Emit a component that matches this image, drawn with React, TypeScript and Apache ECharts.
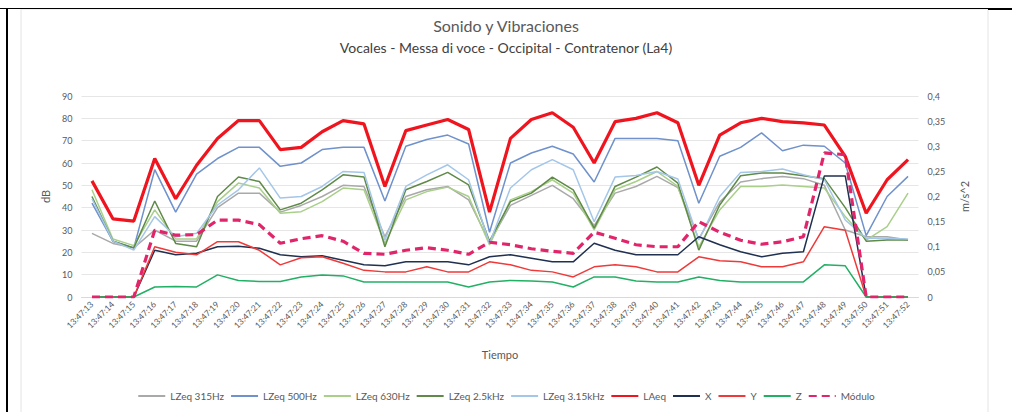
import React, { useEffect, useRef } from "react";
import * as echarts from "echarts";

const categories = [
  "13:47:13","13:47:14","13:47:15","13:47:16","13:47:17","13:47:18","13:47:19","13:47:20",
  "13:47:21","13:47:22","13:47:23","13:47:24","13:47:25","13:47:26","13:47:27","13:47:28",
  "13:47:29","13:47:30","13:47:31","13:47:32","13:47:33","13:47:34","13:47:35","13:47:36",
  "13:47:37","13:47:38","13:47:39","13:47:40","13:47:41","13:47:42","13:47:43","13:47:44",
  "13:47:45","13:47:46","13:47:47","13:47:48","13:47:49","13:47:50","13:47:51","13:47:52",
];

const lzeq315 = [28.5,24,22,30,25,25,40,46.5,46.5,38,41,45,50,49.5,27,45,48,49.5,43.5,24.5,41,45.5,50,44,32,46.5,49.5,54,49,26,42.5,51.5,53,54,53,50,30,27,27,25.5];
const lzeq500 = [42,25,22,57,38,55,62,67,67,58.5,60,66,67,67,43,67.5,70.5,72.5,68.5,29,60,64.5,67.5,64,51.5,71,71,71,70,42,63,67,73.5,65.5,68,67.5,60,27.5,45,54];
const lzeq630 = [48,26,23,39,26,26,42.7,51,48.8,37.5,38.2,42.7,48.8,48,24,43.5,47.2,49.2,45,23.3,43.5,47.2,52.5,46.5,30,48,51.7,56.2,49.5,22.5,39,49.5,49.5,50.2,49.5,48.8,36,25.5,31.5,46.5];
const lzeq2k5 = [45,25,22,43,24,22.5,45,53.7,51.7,39,42,48,54.7,53.7,22.5,48,51.7,55.8,50.2,25,42.7,46.5,53.7,48,30.8,49.5,53.7,58.2,51,21,41.2,54.3,55.5,55.5,54.3,53,40,25,25.5,25.5];
const lzeq3k15 = [44,25,21,36,27,28.5,41.2,48,57.8,44.3,45,49.5,56.2,55.8,25.5,49.5,54.7,59.2,52.5,24,48.8,57,61.5,57,33.7,53.7,54.4,56.2,52.8,25.5,45,55.8,56.2,57.3,54.7,52.5,34.5,26.3,26.3,26];
const laeq = [52,35,34,62,44,59,71,79,79,66,67,74,79,77.5,49.5,74.5,77,79.5,75,38,71,79.5,82.5,76,60,78.5,80,82.5,78,50,72.5,78,80,78.5,78,77,63,37.5,52.5,61.5];

const vibX = [0,0,0,0.093,0.084,0.087,0.1,0.101,0.097,0.084,0.08,0.082,0.073,0.064,0.062,0.07,0.07,0.07,0.064,0.08,0.084,0.077,0.07,0.07,0.107,0.093,0.084,0.084,0.084,0.12,0.104,0.09,0.08,0.087,0.09,0.241,0.241,0,0,0];
const vibY = [0,0,0,0.1,0.089,0.084,0.11,0.11,0.093,0.064,0.078,0.08,0.067,0.053,0.05,0.05,0.06,0.05,0.05,0.07,0.064,0.053,0.05,0.04,0.06,0.064,0.06,0.05,0.05,0.08,0.072,0.07,0.06,0.06,0.07,0.14,0.133,0,0,0];
const vibZ = [0,0,0,0.02,0.021,0.02,0.044,0.033,0.031,0.031,0.04,0.044,0.042,0.03,0.03,0.03,0.03,0.03,0.02,0.03,0.033,0.032,0.03,0.02,0.04,0.04,0.032,0.03,0.03,0.04,0.033,0.03,0.03,0.03,0.03,0.064,0.062,0,0,0];
const modulo = [0,0,0,0.133,0.123,0.124,0.153,0.153,0.144,0.107,0.116,0.122,0.111,0.087,0.085,0.093,0.098,0.093,0.085,0.109,0.104,0.096,0.091,0.087,0.129,0.117,0.104,0.1,0.1,0.15,0.129,0.113,0.105,0.11,0.12,0.287,0.283,0,0,0];

const legendNames = ["LZeq 315Hz","LZeq 500Hz","LZeq 630Hz","LZeq 2.5kHz","LZeq 3.15kHz","LAeq","X","Y","Z","Módulo"];

const FONT = "Lato, 'Open Sans', sans-serif";
const TXT = "#595959";

function line(name: string, data: number[], color: string, width: number, yAxisIndex = 0, type: any = "solid") {
  return {
    name,
    type: "line",
    data,
    yAxisIndex,
    symbol: "none",
    showSymbol: false,
    lineStyle: { color, width, type },
    itemStyle: { color },
  };
}

export default function App() {
  const ref = useRef<HTMLDivElement>(null);
  useEffect(() => {
    if (!ref.current) return;
    const chart = echarts.init(ref.current, undefined, { renderer: "svg" });
    chart.setOption({
      animation: false,
      backgroundColor: "#ffffff",
      textStyle: { fontFamily: FONT },
      title: {
        text: "Sonido y Vibraciones",
        subtext: "Vocales - Messa di voce - Occipital - Contratenor (La4)",
        left: "center",
        top: 12,
        itemGap: 7,
        textStyle: { fontFamily: FONT, fontSize: 16, fontWeight: "normal", color: TXT },
        subtextStyle: { fontFamily: FONT, fontSize: 14, color: "#404040" },
      },
      graphic: [
        { type: "rect", shape: { x: 21, y: 9, width: 967, height: 410 }, style: { fill: "none", stroke: "#e4e4e4", lineWidth: 1 }, silent: true },
        { type: "line", shape: { x1: 0, y1: 8.5, x2: 988, y2: 8.5 }, style: { stroke: "#000", lineWidth: 1 }, silent: true },
        { type: "line", shape: { x1: 988, y1: 9, x2: 1012, y2: 9 }, style: { stroke: "#000", lineWidth: 2 }, silent: true },
        { type: "line", shape: { x1: 7, y1: 8, x2: 7, y2: 412 }, style: { stroke: "#000", lineWidth: 2 }, silent: true },
      ],
      legend: {
        top: 386,
        left: "center",
        itemWidth: 27,
        itemHeight: 8,
        itemGap: 6,
        itemStyle: { opacity: 0, borderWidth: 0 },
        textStyle: { fontFamily: FONT, fontSize: 10, color: TXT },
        data: legendNames,
      },
      grid: { left: 81.5, right: 93.5, top: 96, bottom: 115 },
      xAxis: {
        type: "category",
        data: categories,
        boundaryGap: true,
        name: "Tiempo",
        nameLocation: "middle",
        nameGap: 52,
        nameTextStyle: { fontFamily: FONT, fontSize: 11, color: TXT },
        axisLine: { show: true, lineStyle: { color: "#d9d9d9" } },
        axisTick: { show: false },
        axisLabel: { interval: 0, rotate: 45, fontSize: 8.5, color: TXT, margin: 6 },
      },
      yAxis: [
        {
          type: "value",
          min: 0,
          max: 90,
          interval: 10,
          name: "dB",
          nameLocation: "middle",
          nameRotate: 90,
          nameGap: 31,
          nameTextStyle: { fontFamily: FONT, fontSize: 11, color: TXT },
          axisLine: { show: false },
          axisTick: { show: false },
          axisLabel: { fontSize: 9, color: TXT, margin: 9 },
          splitLine: { show: true, lineStyle: { color: "#e6e6e6", width: 1 } },
        },
        {
          type: "value",
          position: "right",
          min: 0,
          max: 0.4,
          interval: 0.05,
          name: "m/s^2",
          nameLocation: "middle",
          nameRotate: 90,
          nameGap: 40,
          nameTextStyle: { fontFamily: FONT, fontSize: 11, color: TXT },
          axisLine: { show: false },
          axisTick: { show: false },
          axisLabel: {
            fontSize: 9,
            color: TXT,
            margin: 9,
            formatter: (v: number) => String(+v.toFixed(2)).replace(".", ","),
          },
          splitLine: { show: false },
        },
      ],
      series: [
        line("LZeq 315Hz", lzeq315, "#a9a9a9", 1.5),
        line("LZeq 500Hz", lzeq500, "#6f91cc", 1.5),
        line("LZeq 630Hz", lzeq630, "#a9cf8a", 1.5),
        line("LZeq 2.5kHz", lzeq2k5, "#5f8a48", 1.5),
        line("LZeq 3.15kHz", lzeq3k15, "#a4c6e8", 1.5),
        line("LAeq", laeq, "#f0141e", 3.2),
        line("X", vibX, "#1f3050", 1.5, 1),
        line("Y", vibY, "#f03a3a", 1.5, 1),
        line("Z", vibZ, "#22b064", 1.5, 1),
        line("Módulo", modulo, "#e2246a", 3.2, 1, [8, 5]),
      ],
    });
    return () => chart.dispose();
  }, []);
  return (
    <div
      ref={ref}
      style={{ position: "fixed", left: 0, top: 0, width: 1012, height: 412 }}
    />
  );
}
